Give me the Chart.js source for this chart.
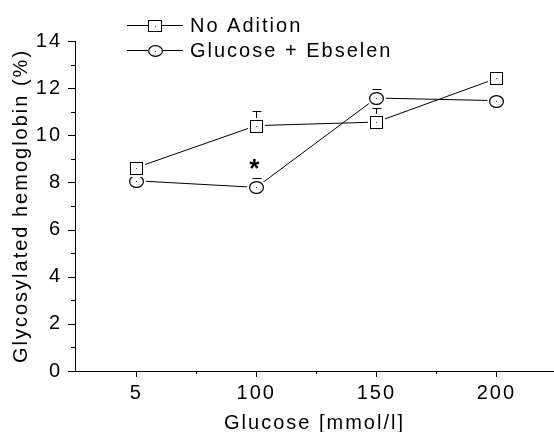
<!DOCTYPE html>
<html><head><meta charset="utf-8">
<script src="https://cdn.jsdelivr.net/npm/chart.js@4.4.1/dist/chart.umd.min.js"></script>
<style>html,body{margin:0;padding:0;background:#fff;overflow:hidden}</style>
</head><body>
<canvas id="c" width="554" height="432" style="display:block;width:554px;height:432px"></canvas>
<script>
// ---------- data ----------
const categories = ['5', '100', '150', '200'];
const xTitle = 'Glucose [mmol/l]';
const yTitle = 'Glycosylated hemoglobin (%)';
const yTicks = [0, 2, 4, 6, 8, 10, 12, 14];
const yMinorTicks = [1, 3, 5, 7, 9, 11, 13];
const seriesNames = ['No Adition', 'Glucose + Ebselen'];
const noAdition = [8.63, 10.41, 10.56, 12.41];
const noAditionErr = [0.3, 0.6, 0.6, 0.25];
const glucoseEbselen = [8.07, 7.79, 11.58, 11.47];
const glucoseEbselenErr = [0.25, 0.4, 0.4, 0.3];
const significance = [{ series: 1, index: 1, label: '*' }];

// ---------- marker images ----------
function makeMarker(shape, w, h, halo) {
  const c = document.createElement('canvas');
  c.width = w + 2 * halo; c.height = h + 2 * halo;
  const g = c.getContext('2d');
  g.fillStyle = '#fff';
  g.strokeStyle = '#000';
  g.lineWidth = 1;
  if (shape === 'square') {
    g.fillRect(0, 0, c.width, c.height);
    g.strokeRect(halo + 0.5, halo + 0.5, w - 1, h - 1);
  } else {
    g.beginPath();
    g.ellipse(c.width / 2, c.height / 2, c.width / 2, c.height / 2, 0, 0, Math.PI * 2);
    g.fill();
    g.lineWidth = 1.2;
    g.beginPath();
    g.ellipse(c.width / 2, c.height / 2, w / 2 - 0.6, h / 2 - 0.6, 0, 0, Math.PI * 2);
    g.stroke();
  }
  g.fillStyle = '#444';
  g.fillRect(Math.floor(c.width / 2), Math.floor(c.height / 2), 1, 1);
  return c;
}
const squareMarker = makeMarker('square', 13, 13, 2);
const circleMarker = makeMarker('circle', 15, 13, 2);
const squareLegend = makeMarker('square', 14, 12, 0);
const circleLegend = makeMarker('circle', 15, 12, 0);
const plotMarkers = [squareMarker, circleMarker];
const legendMarkers = [squareLegend, circleLegend];

const FONT = "'Liberation Sans', Arial, sans-serif";
const FSIZE = 20;
const SPACING = '2px';

const spacingPlugin = {
  id: 'spacing',
  beforeUpdate(chart) { chart.ctx.letterSpacing = SPACING; },
  beforeLayout(chart) { chart.ctx.letterSpacing = SPACING; },
  beforeDraw(chart) { chart.ctx.letterSpacing = SPACING; }
};

const errorBarPlugin = {
  id: 'errorBars',
  beforeDatasetsDraw(chart) {
    const ctx = chart.ctx, ys = chart.scales.y, xs = chart.scales.x;
    ctx.save();
    ctx.strokeStyle = '#000'; ctx.lineWidth = 1;
    chart.data.datasets.forEach(ds => {
      ds.data.forEach((p, i) => {
        const x = Math.round(xs.getPixelForValue(p.x)) + 0.5;
        const y0 = ys.getPixelForValue(p.y);
        const y1 = Math.round(ys.getPixelForValue(p.y + ds.errors[i])) + 0.5;
        ctx.beginPath();
        ctx.moveTo(x, y0); ctx.lineTo(x, y1);
        ctx.moveTo(x - 4, y1); ctx.lineTo(x + 5, y1);
        ctx.stroke();
      });
    });
    ctx.restore();
  },
  afterDatasetsDraw(chart) {
    const ctx = chart.ctx;
    for (let d = chart.data.datasets.length - 1; d >= 0; d--) {
      const meta = chart.getDatasetMeta(d);
      const img = plotMarkers[d];
      meta.data.forEach(el => {
        const x = Math.round(el.x), y = Math.round(el.y);
        ctx.drawImage(img, x - Math.floor(img.width / 2), y - Math.floor(img.height / 2));
      });
    }
  }
};

const decorPlugin = {
  id: 'decor',
  afterDraw(chart) {
    const ctx = chart.ctx, ys = chart.scales.y, xs = chart.scales.x;
    const area = chart.chartArea;
    ctx.save();
    ctx.strokeStyle = '#000'; ctx.lineWidth = 1;
    ctx.beginPath();
    yTicks.forEach(v => { const y = Math.round(ys.getPixelForValue(v)) + 0.5; ctx.moveTo(area.left - 7, y); ctx.lineTo(area.left + 0.5, y); });
    yMinorTicks.forEach(v => { const y = Math.round(ys.getPixelForValue(v)) + 0.5; ctx.moveTo(area.left - 4, y); ctx.lineTo(area.left + 0.5, y); });
    categories.forEach((c, i) => { const x = Math.round(xs.getPixelForValue(i + 1)) + 0.5; ctx.moveTo(x, area.bottom); ctx.lineTo(x, area.bottom + 6); });
    categories.slice(1).forEach((c, i) => { const x = Math.round(xs.getPixelForValue(i + 1.5)) + 0.5; ctx.moveTo(x, area.bottom); ctx.lineTo(x, area.bottom + 3); });
    ctx.stroke();

    // significance marks
    ctx.letterSpacing = '0px';
    ctx.fillStyle = '#000';
    ctx.font = 'bold 26px ' + FONT;
    ctx.textAlign = 'center';
    ctx.textBaseline = 'alphabetic';
    significance.forEach(s => {
      const ds = chart.data.datasets[s.series];
      const p = ds.data[s.index];
      const topY = ys.getPixelForValue(p.y + ds.errors[s.index]);
      const m = ctx.measureText(s.label);
      const cy = topY - 14;
      ctx.fillText(s.label, xs.getPixelForValue(p.x) - 2, cy + (m.actualBoundingBoxAscent - m.actualBoundingBoxDescent) / 2);
    });

    // legend
    ctx.letterSpacing = SPACING;
    ctx.font = FSIZE + 'px ' + FONT;
    ctx.textAlign = 'left';
    ctx.textBaseline = 'middle';
    chart.data.datasets.forEach((ds, i) => {
      const y = 25 + i * 25;
      ctx.beginPath();
      ctx.moveTo(127, y + 0.5); ctx.lineTo(148, y + 0.5);
      ctx.moveTo(162, y + 0.5); ctx.lineTo(183, y + 0.5);
      ctx.stroke();
      const mk = legendMarkers[i];
      ctx.drawImage(mk, Math.round(155 - mk.width / 2), Math.round(y + 0.5 - mk.height / 2));
      ctx.fillText(ds.label, 190, y + 1);
    });
    ctx.restore();
  }
};

Chart.defaults.font.family = FONT;
Chart.defaults.color = '#000';

new Chart(document.getElementById('c'), {
  type: 'line',
  data: {
    datasets: [
      {
        label: seriesNames[0],
        data: categories.map((c, i) => ({ x: i + 1, y: noAdition[i] })),
        errors: noAditionErr,
        borderColor: '#000', borderWidth: 1, tension: 0,
        pointRadius: 0, pointHoverRadius: 0
      },
      {
        label: seriesNames[1],
        data: categories.map((c, i) => ({ x: i + 1, y: glucoseEbselen[i] })),
        errors: glucoseEbselenErr,
        borderColor: '#000', borderWidth: 1, tension: 0,
        pointRadius: 0, pointHoverRadius: 0
      }
    ]
  },
  options: {
    responsive: false,
    animation: false,
    devicePixelRatio: 1,
    layout: { padding: { top: 41, left: 0, right: 0, bottom: 0 } },
    plugins: { legend: { display: false }, tooltip: { enabled: false } },
    events: [],
    scales: {
      x: {
        type: 'linear', min: 0.49, max: 4.48,
        afterBuildTicks: s => { s.ticks = categories.map((c, i) => ({ value: i + 1 })); },
        afterFit: s => { s.height = 61; },
        grid: { display: false, drawTicks: false },
        border: { display: true, color: '#000', width: 1 },
        ticks: {
          autoSkip: false, maxRotation: 0, padding: 10,
          font: { size: FSIZE }, color: '#000',
          callback: v => categories[Math.round(v) - 1] ?? ''
        },
        title: { display: true, text: xTitle, font: { size: FSIZE }, color: '#000', padding: { top: 0, bottom: -3 } }
      },
      y: {
        type: 'linear', min: 0, max: 14,
        afterBuildTicks: s => { s.ticks = yTicks.map(v => ({ value: v })); },
        afterFit: s => { s.width = 75; },
        grid: { display: false, drawTicks: false },
        border: { display: true, color: '#000', width: 1 },
        ticks: { padding: 13, font: { size: FSIZE }, color: '#000' },
        title: { display: true, text: yTitle, font: { size: FSIZE }, color: '#000', padding: { top: 9, bottom: 0 } }
      }
    }
  },
  plugins: [spacingPlugin, errorBarPlugin, decorPlugin]
});
</script>
</body></html>
